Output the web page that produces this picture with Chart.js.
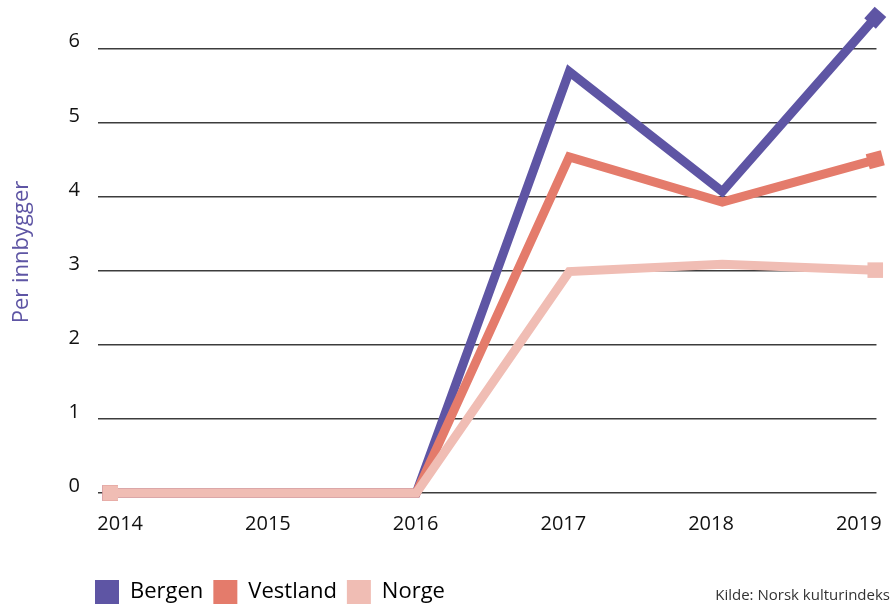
<!DOCTYPE html>
<html lang="no">
<head>
    <title>Per innbygger</title>
    <script src="https://cdn.jsdelivr.net/npm/chart.js"></script>
    <style>
        body {
            margin: 0;
            background: #fff;
        }
        .wrap {
            position: relative;
            width: 893px;
            height: 607px;
        }
        .source {
            position: absolute;
            right: 3px;
            bottom: 3px;
            font-family: "Open Sans", sans-serif;
            font-size: 15px;
            color: #333;
        }
    </style>
</head>
<body>
    <div class="wrap">
        <canvas id="chart" width="893" height="607"></canvas>
        <div class="source">Kilde: Norsk kulturindeks</div>
    </div>

    <script>
        const years = [2014, 2015, 2016, 2017, 2018, 2019];
        const bergen = [0, 0, 0, 5.69, 4.07, 6.42];
        const vestland = [0, 0, 0, 4.54, 3.93, 4.5];
        const norge = [0, 0, 0, 2.99, 3.09, 3.01];
        const yTicks = [0, 1, 2, 3, 4, 5, 6];

        const font = '"Open Sans", sans-serif';
        const last = years.length - 1;

        // square markers only at the ends of the lines
        function endPoints(ctx) {
            return (ctx.dataIndex === 0 || ctx.dataIndex === last) ? 11 : 0;
        }

        function line(label, values, color, order, rotation) {
            return {
                label: label,
                data: years.map((yr, i) => ({ x: yr, y: values[i] })),
                borderColor: color,
                backgroundColor: color,
                borderWidth: 9,
                tension: 0,
                borderJoinStyle: 'miter',
                borderCapStyle: 'butt',
                pointStyle: 'rect',
                pointRadius: endPoints,
                pointBorderWidth: 0,
                pointRotation: ctx => ctx.dataIndex === last ? rotation : 0,
                order: order,
                clip: false
            };
        }

        // move the legend so it lines up under the plot
        const legendShift = {
            id: 'legendShift',
            afterLayout(chart) {
                chart.legend.left = 85;
                chart.legend.top += 7;
            }
        };

        new Chart(document.getElementById('chart').getContext('2d'), {
            type: 'line',
            data: {
                datasets: [
                    line('Bergen', bergen, '#5e55a4', 2, 42),
                    line('Vestland', vestland, '#e47b6b', 1, -15),
                    line('Norge', norge, '#f0bdb4', 0, 0)
                ]
            },
            options: {
                responsive: false,
                animation: false,
                events: [],
                layout: {
                    padding: { top: 5, right: 6, left: 0, bottom: 0 }
                },
                scales: {
                    x: {
                        type: 'linear',
                        display: false,
                        min: 2013.92,
                        max: 2019.008
                    },
                    xLabels: {
                        type: 'linear',
                        position: 'bottom',
                        min: 2013.85,
                        max: 2019.12,
                        grid: { display: false },
                        border: { display: false },
                        afterBuildTicks: scale => {
                            scale.ticks = years.map(v => ({ value: v }));
                        },
                        afterFit: scale => {
                            scale.height = 70;
                        },
                        ticks: {
                            padding: 11,
                            maxRotation: 0,
                            color: '#111',
                            font: { family: font, size: 20 },
                            callback: v => String(v)
                        }
                    },
                    y: {
                        min: 0,
                        max: 6.51,
                        afterBuildTicks: scale => {
                            scale.ticks = yTicks.map(v => ({ value: v }));
                        },
                        afterFit: scale => {
                            scale.width = 98;
                        },
                        border: { display: false },
                        grid: {
                            color: '#3c3c3c',
                            lineWidth: 1.5,
                            drawTicks: true,
                            tickLength: 18,
                            tickColor: 'rgba(0,0,0,0)'
                        },
                        ticks: {
                            padding: 0,
                            labelOffset: -7,
                            color: '#111',
                            font: { family: font, size: 20, lineHeight: 0.5 }
                        },
                        title: {
                            display: true,
                            text: 'Per innbygger',
                            color: '#5e55a4',
                            padding: { top: 9, bottom: 0 },
                            font: { family: font, size: 22 }
                        }
                    }
                },
                plugins: {
                    tooltip: { enabled: false },
                    legend: {
                        position: 'bottom',
                        align: 'start',
                        labels: {
                            boxWidth: 24,
                            boxHeight: 24,
                            padding: 10,
                            color: '#111',
                            font: { family: font, size: 22 },
                            generateLabels: chart => chart.data.datasets.map((ds, i) => ({
                                text: ds.label,
                                fillStyle: ds.borderColor,
                                strokeStyle: ds.borderColor,
                                lineWidth: 0,
                                datasetIndex: i,
                                hidden: false
                            }))
                        }
                    }
                }
            },
            plugins: [legendShift]
        });
    </script>
</body>
</html>
